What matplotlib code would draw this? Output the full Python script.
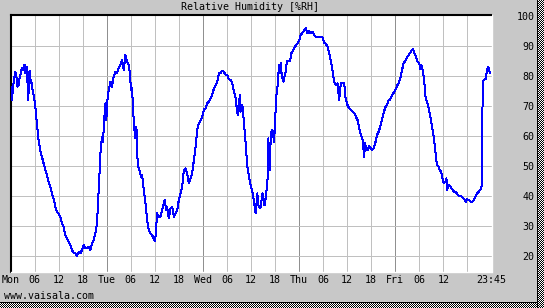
import numpy as np
import matplotlib
matplotlib.use("Agg")
import matplotlib.pyplot as plt

# hours since Mon 00:00 and relative humidity (%RH)
hours = [
    0.0, 0.33, 0.75, 1.17, 1.42, 1.75, 2.0, 2.25, 2.58, 2.83, 3.25, 3.5, 3.75, 4.08, 4.42,
    4.75, 4.92, 5.17, 5.42, 5.75, 6.17, 6.58, 7.0, 7.42, 7.83, 8.25, 8.67, 9.08, 9.5, 9.92,
    10.33, 10.75, 11.17, 11.58, 12.0, 12.42, 12.83, 13.25, 13.67, 14.08, 14.5, 14.92, 15.33,
    15.75, 16.17, 16.58, 17.0, 17.42, 17.83, 18.25, 18.67, 19.08, 19.5, 19.92, 20.33, 20.75,
    21.17, 21.58, 21.83, 22.17, 22.42, 22.83, 23.08, 23.42, 23.67, 23.92, 24.08, 24.5, 24.92,
    25.33, 25.75, 26.17, 26.58, 27.0, 27.42, 27.83, 28.25, 28.67, 29.08, 29.5, 29.75, 30.08,
    30.33, 30.58, 30.92, 31.17, 31.42, 31.58, 31.83, 32.25, 32.58, 32.83, 33.25, 33.67, 34.08,
    34.5, 34.92, 35.33, 35.75, 36.08, 36.33, 36.58, 37.0, 37.42, 37.83, 38.25, 38.5, 38.83,
    39.08, 39.5, 39.92, 40.33, 40.75, 41.17, 41.58, 42.0, 42.42, 42.83, 43.25, 43.67, 44.08,
    44.5, 44.92, 45.33, 45.75, 46.17, 46.58, 47.0, 47.42,
    47.83, 48.25, 48.67, 49.08, 49.5, 49.92, 50.33, 50.75, 51.17, 51.58, 52.0, 52.42, 52.83,
    53.25, 53.67, 54.08, 54.5, 54.92, 55.33, 55.75, 56.17, 56.58, 56.83, 57.08, 57.25, 57.42,
    57.67, 57.92, 58.25, 58.67, 59.08, 59.5, 59.92, 60.33, 60.75, 61.17, 61.58, 61.83, 62.17,
    62.42, 62.83, 63.08, 63.25, 63.5, 63.75, 64.08, 64.33, 64.58, 64.75, 64.92, 65.33, 65.75,
    66.0, 66.25, 66.58, 67.0, 67.25, 67.42, 67.67, 68.08, 68.42, 68.67, 68.92, 69.25, 69.75,
    70.08, 70.58, 70.92, 71.42, 71.75, 72.08, 72.42, 72.83, 73.25, 73.67, 74.08, 74.5, 74.92,
    75.33, 75.75, 76.17, 77.0, 77.83, 78.25, 78.67, 79.08, 79.5, 79.92, 80.33, 80.75, 81.17,
    81.58, 82.0, 82.42, 82.83, 83.25, 83.5, 83.83, 84.08, 84.5, 84.92, 85.33, 85.75, 86.17,
    86.58, 87.0, 87.42, 87.83, 88.25, 88.42, 88.67, 89.08, 89.5,
    90.17, 90.58, 91.0, 91.42, 91.83, 92.25, 92.67, 93.08, 93.5, 93.92, 94.33, 94.75, 95.17,
    95.58, 96.0, 96.42, 96.83, 97.25, 97.67, 98.08, 98.5, 98.92, 99.33, 99.75, 100.17, 100.42,
    100.75, 101.17, 101.58, 102.0, 102.25, 102.5, 102.83, 103.08, 103.33, 103.58, 103.92,
    104.33, 104.75, 105.17, 105.58, 105.83, 106.17, 106.42, 106.83, 107.08, 107.42, 107.67,
    107.92, 108.08, 108.5, 108.75, 108.92, 109.33, 109.75, 110.0, 110.33, 110.75, 111.25,
    111.58, 112.0, 112.5, 112.92, 113.33, 113.67, 113.92, 114.33, 114.75, 115.17, 115.58,
    116.0, 116.42, 116.83, 117.25, 117.5, 117.67, 117.83, 118.08, 118.5, 118.75, 119.08,
    119.33, 119.58,
]
rh = [
    76.4, 72.0, 77.6, 81.4, 80.3, 76.4, 77.0, 79.2, 81.0, 82.6, 82.0, 83.7, 80.9, 83.1, 72.0,
    81.8, 77.6, 78.7, 75.9, 73.7, 70.3, 64.2, 58.7, 55.3, 53.1, 50.9, 48.7, 47.0, 44.8, 43.1,
    40.9, 39.2, 36.4, 34.8, 34.2, 33.1, 30.9, 29.8, 27.0, 25.9, 24.8, 23.7, 22.0,
    21.1, 20.9, 20.0, 21.4, 20.9, 22.0, 23.7, 22.6, 22.6, 23.1, 22.0, 24.2, 25.3,
    27.6, 30.9, 37.6, 46.4, 54.2, 59.8, 58.1, 66.4, 70.9, 65.3, 70.9, 75.3, 78.1,
    76.4, 79.8, 81.4, 80.9, 82.6, 83.7, 85.3, 82.0, 87.0, 84.8, 83.7, 81.4, 75.3,
    75.9, 68.7, 62.0, 59.2, 63.1, 54.2, 49.8, 48.1, 46.4, 47.0, 42.0, 37.6, 32.0,
    28.7, 27.6, 27.0, 25.6, 25.0, 29.2, 34.2, 33.1, 33.1, 35.3, 37.6, 38.7, 35.3,
    36.4, 32.6, 35.9, 36.4, 33.0, 34.2, 35.3, 38.7, 40.9, 43.1, 48.7, 49.2, 47.6,
    44.2, 45.9, 47.6, 52.0, 56.4, 62.0, 64.2, 65.3,
    66.4, 68.9, 69.2, 70.9, 71.4, 72.6, 73.7, 75.9, 77.0, 78.1, 80.9, 81.1, 81.8,
    81.4, 80.3, 80.3, 78.9, 78.7, 77.6, 74.8, 72.6, 67.6, 67.0, 72.0, 73.7, 68.1,
    70.3, 69.6, 64.2, 57.6, 49.8, 46.4, 43.7, 41.4, 38.1, 34.2, 40.9, 37.0, 35.9,
    36.4, 40.9, 39.8, 37.0, 37.0, 40.9, 43.1, 59.2, 50.9, 48.7, 60.9, 62.0, 58.1,
    64.2, 72.6, 75.9, 83.7, 80.9, 84.2, 80.3, 78.1, 80.3, 81.4, 84.8, 85.0, 85.0,
    87.6, 88.7, 89.6, 90.7, 91.1, 92.0, 93.7, 94.4, 95.1, 95.9, 94.2, 95.0, 94.2,
    94.8, 93.7, 93.1, 93.1, 92.9, 91.1, 90.7, 89.8, 87.8, 84.8, 82.0, 78.1, 77.0,
    77.6, 72.0, 77.8, 77.8, 77.8, 73.1, 71.4, 70.3, 69.2, 68.7, 68.1, 67.6, 66.4,
    65.3, 62.6, 60.3, 58.7, 53.1, 57.6, 56.4, 55.3, 56.7,
    55.3, 55.9, 57.6, 60.3, 61.4, 63.1, 65.3, 67.6, 69.6, 70.3, 71.8, 72.2, 73.7,
    74.4, 75.3, 76.7, 77.6, 79.2, 82.0, 84.2, 85.1, 86.2, 87.0, 87.8, 88.7, 88.9,
    87.6, 86.4, 84.8, 84.0, 82.2, 83.7, 82.0, 79.8, 76.4, 72.6, 71.4,
    69.2, 66.4, 63.1, 59.8, 57.0, 52.6, 50.3, 49.8, 48.7, 48.1, 46.4,
    45.3, 44.2, 44.8, 45.9, 42.0, 43.7, 43.1, 42.6, 42.0, 41.4, 41.1,
    40.3, 40.0, 39.8, 39.2, 38.7, 38.1, 38.9, 38.7, 38.1, 38.1, 38.7,
    39.8, 40.9, 41.4, 42.2, 42.6, 60.0, 77.6, 78.7, 78.9, 80.9, 82.9,
    82.6, 80.9,
]

tick_hours = list(range(0, 121, 6))
tick_labels = ["Mon", "06", "12", "18", "Tue", "06", "12", "18", "Wed", "06", "12", "18",
               "Thu", "06", "12", "18", "Fri", "06", "12", "", "23:45"]
y_ticks = [20, 30, 40, 50, 60, 70, 80, 90, 100]

W, H = 544, 308
bg = "#c8c8c8"
font = dict(family="DejaVu Sans Mono", size=7.2)

fig = plt.figure(figsize=(W / 100, H / 100), dpi=100, facecolor=bg)
ax = fig.add_axes([10.5 / W, (H - 272) / H, 481 / W, 257 / H])
ax.set_facecolor("white")

ax.set_xlim(0, 120)
ax.set_ylim(14.67, 100.33)

# grid: light every 6 h and every 10 %, darker at midnight
for h in tick_hours[1:-1]:
    c = "#909090" if h % 24 == 0 else "#c0c0c0"
    ax.axvline(h, color=c, lw=0.72, antialiased=False, zorder=1)
for v in y_ticks[:-1]:
    ax.axhline(v, color="#c0c0c0", lw=0.72, antialiased=False, zorder=1)

ax.plot(hours, rh, color="#0000ff", lw=0.72, antialiased=False, zorder=3)

ax.set_xticks(tick_hours)
ax.set_xticklabels(tick_labels, **font)
ax.set_yticks(y_ticks)
ax.set_yticklabels([str(v) for v in y_ticks], **font)
ax.yaxis.tick_right()
ax.tick_params(axis="x", length=0, pad=2.5)
ax.tick_params(axis="y", length=0, pad=31)
for lab in ax.get_yticklabels():
    lab.set_horizontalalignment("right")

# sunken panel look
for s in ["left", "top"]:
    ax.spines[s].set_color("black")
    ax.spines[s].set_linewidth(1.5)
for s in ["right", "bottom"]:
    ax.spines[s].set_color("white")
    ax.spines[s].set_linewidth(1.0)

fig.text(250 / W, 1 - 7 / H, "Relative Humidity [%RH]", ha="center", va="center", **font)
fig.text(3.5 / W, (H - 296) / H, "www.vaisala.com", ha="left", va="center", **font)

# dithered drop shadow on the right and bottom of the frame
yy, xx = np.mgrid[0:H, 0:7]
right = np.where((xx + yy) % 2 == 0, 0.0, 1.0)
right[:, 0] = 0.0
fig.figimage(np.dstack([right] * 3), xo=W - 7, yo=0, origin="upper", zorder=5)
yy, xx = np.mgrid[0:6, 0:W - 7]
bottom = np.where((xx + yy) % 2 == 0, 0.0, 1.0)
bottom[0, :] = 0.0
fig.figimage(np.dstack([bottom] * 3), xo=0, yo=0, origin="upper", zorder=5)

fig.savefig("out.png", dpi=100, facecolor=bg)
